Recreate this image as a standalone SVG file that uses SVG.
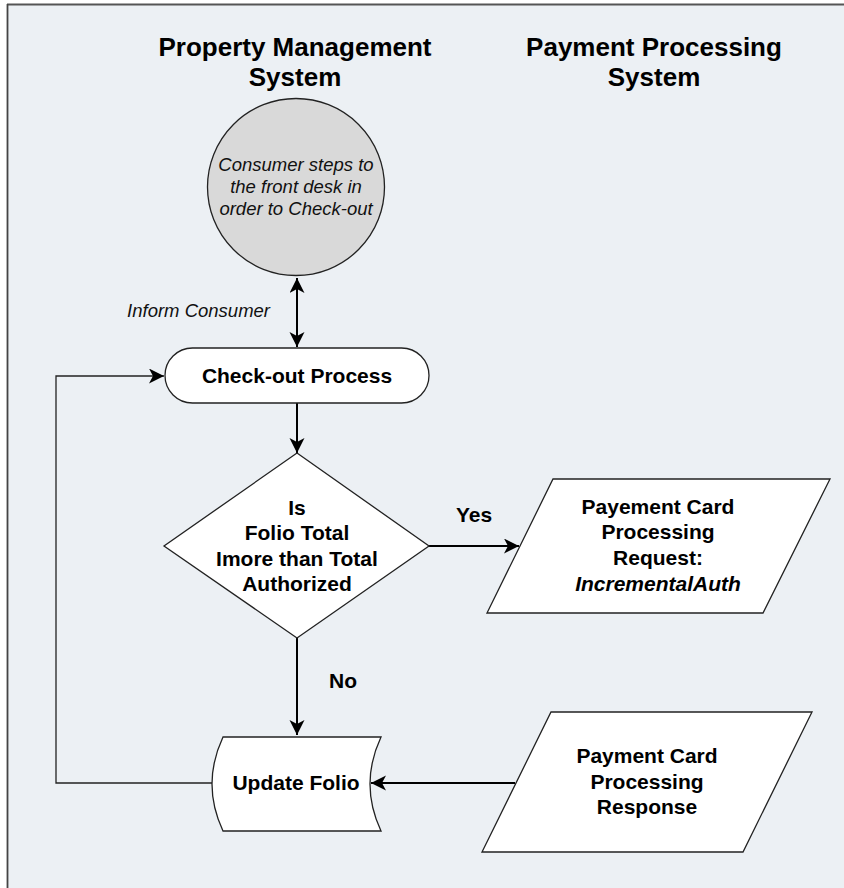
<svg xmlns="http://www.w3.org/2000/svg" width="844" height="888" viewBox="0 0 844 888">
<style>
  .title { font-family: "Liberation Sans", Arial, sans-serif; font-size: 26px; font-weight: bold; fill: #000; text-anchor: middle; }
  .lbl { font-family: "Liberation Sans", Arial, sans-serif; font-size: 21px; font-weight: bold; fill: #000; text-anchor: middle; }
  .it { font-family: "Liberation Sans", Arial, sans-serif; font-size: 18.5px; font-style: italic; fill: #111; }
  .shape { fill: #ffffff; stroke: #222; stroke-width: 1.3; }
  .conn { fill: none; stroke: #000; stroke-width: 2; }
  .loop { fill: none; stroke: #222; stroke-width: 1.3; }
</style>
<defs>
  <marker id="arrow" viewBox="0 0 16 16" markerUnits="userSpaceOnUse" markerWidth="16" markerHeight="16" refX="15" refY="7.5" orient="auto-start-reverse">
    <path d="M0,0 L15,7.5 L0,15 L4,7.5 Z" fill="#000"/>
  </marker>
</defs>
<rect x="0" y="0" width="844" height="888" fill="#ffffff"/>
<rect x="7" y="4" width="840" height="890" fill="#ECF0F4"/>
<line x1="7" y1="4.5" x2="844" y2="4.5" stroke="#555" stroke-width="1.8"/>
<line x1="7.5" y1="4" x2="7.5" y2="888" stroke="#444" stroke-width="1.8"/>

<g id="titles">
  <text class="title" x="295" y="56">Property Management</text>
  <text class="title" x="295" y="86">System</text>
  <text class="title" x="654" y="56">Payment Processing</text>
  <text class="title" x="654" y="86">System</text>
</g>

<g id="connectors">
  <line class="conn" x1="297" y1="278" x2="297" y2="347" marker-start="url(#arrow)" marker-end="url(#arrow)"/>
  <line class="conn" x1="297" y1="403" x2="297" y2="453" marker-end="url(#arrow)"/>
  <line class="conn" x1="429" y1="546" x2="519" y2="546" marker-end="url(#arrow)"/>
  <line class="conn" x1="297" y1="638" x2="297" y2="735" marker-end="url(#arrow)"/>
  <line class="conn" x1="515" y1="783" x2="371" y2="783" marker-end="url(#arrow)"/>
  <polyline class="loop" points="212,783 56,783 56,376 164,376" marker-end="url(#arrow)"/>
  <text class="it" x="270" y="317" text-anchor="end">Inform Consumer</text>
  <text class="lbl" x="474" y="522">Yes</text>
  <text class="lbl" x="343" y="688">No</text>
</g>

<g id="consumer">
  <circle cx="296" cy="187" r="88.5" fill="#D9D9D9" stroke="#222" stroke-width="1.3"/>
  <text class="it" x="296" y="171" text-anchor="middle">Consumer steps to</text>
  <text class="it" x="296" y="193" text-anchor="middle">the front desk in</text>
  <text class="it" x="296" y="215" text-anchor="middle">order to Check-out</text>
</g>

<g id="checkout">
  <rect class="shape" x="165" y="348" width="264" height="55" rx="27.5" ry="27.5"/>
  <text class="lbl" x="297" y="383">Check-out Process</text>
</g>

<g id="decision">
  <polygon class="shape" points="297,453 429,546 297,638 164,546"/>
  <text class="lbl" x="297" y="515">Is</text>
  <text class="lbl" x="297" y="540">Folio Total</text>
  <text class="lbl" x="297" y="566">Imore than Total</text>
  <text class="lbl" x="297" y="591">Authorized</text>
</g>

<g id="request">
  <polygon class="shape" points="553,479 830,479 763,613 487,613"/>
  <text class="lbl" x="658" y="513.5">Payement Card</text>
  <text class="lbl" x="658" y="539">Processing</text>
  <text class="lbl" x="658" y="565">Request:</text>
  <text class="lbl" x="658" y="590.5" font-style="italic">IncrementalAuth</text>
</g>

<g id="update-folio">
  <path class="shape" d="M223,737 L381,737 Q359,784 381,831 L223,831 Q201,784 223,737 Z"/>
  <text class="lbl" x="296" y="789.5">Update Folio</text>
</g>

<g id="response">
  <polygon class="shape" points="551,712 812,712 743,852 482,852"/>
  <text class="lbl" x="647" y="763">Payment Card</text>
  <text class="lbl" x="647" y="788.5">Processing</text>
  <text class="lbl" x="647" y="814">Response</text>
</g>
</svg>
